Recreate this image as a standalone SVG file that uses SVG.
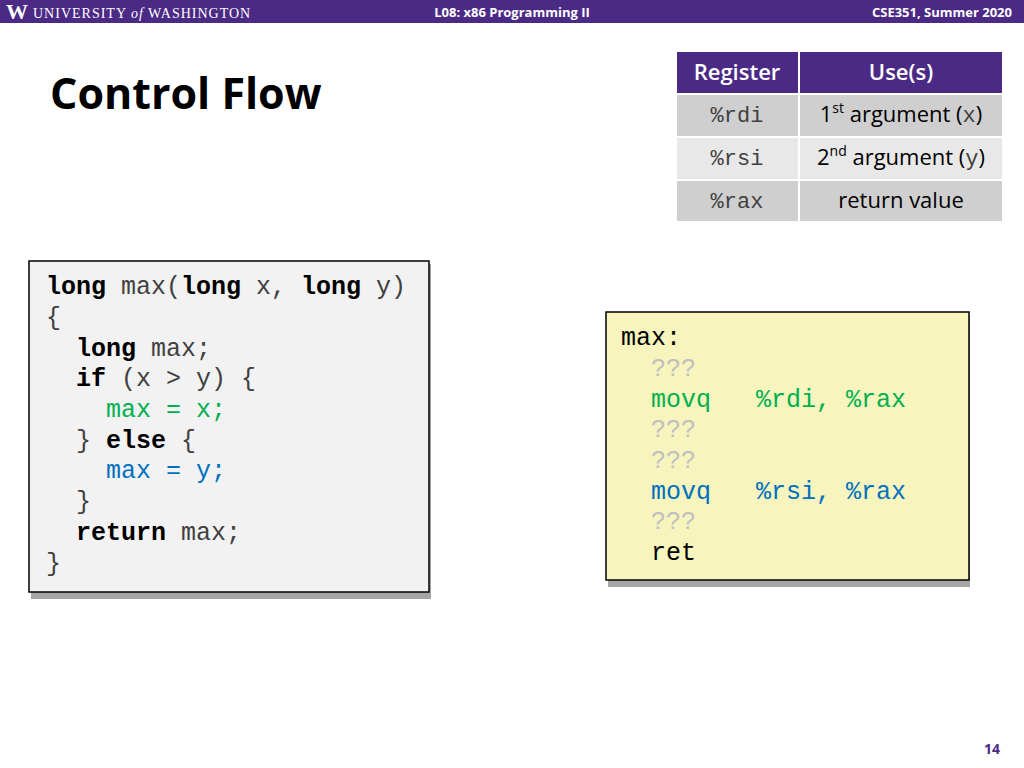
<svg xmlns="http://www.w3.org/2000/svg" width="1024" height="768" viewBox="0 0 1024 768">
<defs><style>
.m{font-family:"Liberation Mono",monospace;font-size:25px;fill:#404040}
.b{font-weight:bold;fill:#000}
.g{fill:#00b050}.bl{fill:#0070c0}.q{fill:#bfbfbf}.k{fill:#000}
.s{font-family:"Open Sans","Liberation Sans",sans-serif}
.cell{font-family:"Open Sans","Liberation Sans",sans-serif;font-size:22px;text-anchor:middle}
.rm{font-family:"Liberation Mono",monospace;font-size:22px;fill:#404040;text-anchor:middle}
</style></defs>
<rect width="1024" height="768" fill="#fff"/>
<g id="header">
<rect width="1024" height="23" fill="#4b2a85"/>
<text x="6" y="19" font-family="Liberation Serif,serif" font-size="22" font-weight="bold" fill="#fff">W</text>
<text x="33" y="18" font-family="Liberation Serif,serif" font-size="14" fill="#fff" letter-spacing="1">UNIVERSITY <tspan font-style="italic">of</tspan> WASHINGTON</text>
<text x="512" y="17" class="s" font-size="13" font-weight="bold" fill="#fff" text-anchor="middle">L08: x86 Programming II</text>
<text x="1012" y="17" class="s" font-size="13" font-weight="bold" fill="#fff" text-anchor="end">CSE351, Summer 2020</text>
</g>
<text x="50" y="109" class="s" font-size="43" font-weight="bold" fill="#000">Control Flow</text>
<g id="table">
<rect x="677" y="52" width="121" height="41" fill="#4b2a85"/>
<rect x="800" y="52" width="202" height="41" fill="#4b2a85"/>
<rect x="677" y="95" width="121" height="41" fill="#cfcfcf"/>
<rect x="800" y="95" width="202" height="41" fill="#cfcfcf"/>
<rect x="677" y="138" width="121" height="41" fill="#e8e8e8"/>
<rect x="800" y="138" width="202" height="41" fill="#e8e8e8"/>
<rect x="677" y="181" width="121" height="40" fill="#cfcfcf"/>
<rect x="800" y="181" width="202" height="40" fill="#cfcfcf"/>
<text x="737" y="80" class="cell" fill="#fff" font-weight="600">Register</text>
<text x="901" y="80" class="cell" fill="#fff" font-weight="600">Use(s)</text>
<text x="737" y="122" class="rm">%rdi</text>
<text x="737" y="165" class="rm">%rsi</text>
<text x="737" y="208" class="rm">%rax</text>
<text x="901" y="122" class="cell" fill="#000">1<tspan font-size="14" dy="-9">st</tspan><tspan dy="9"> argument (</tspan><tspan font-family="Liberation Mono,monospace" fill="#404040">x</tspan>)</text>
<text x="901" y="165" class="cell" fill="#000">2<tspan font-size="14" dy="-9">nd</tspan><tspan dy="9"> argument (</tspan><tspan font-family="Liberation Mono,monospace" fill="#404040">y</tspan>)</text>
<text x="901" y="208" class="cell" fill="#000">return value</text>
</g>
<g id="ccode">
<rect x="31" y="264" width="400" height="335" fill="#a6a6a6"/>
<rect x="29" y="261" width="400" height="331" fill="#f2f2f2" stroke="#000" stroke-width="1.5"/>
<text class="m" xml:space="preserve">
<tspan x="46" y="294"><tspan class="b">long</tspan> max(<tspan class="b">long</tspan> x, <tspan class="b">long</tspan> y)</tspan>
<tspan x="46" y="325">{</tspan>
<tspan x="46" y="356">  <tspan class="b">long</tspan> max;</tspan>
<tspan x="46" y="386">  <tspan class="b">if</tspan> (x &gt; y) {</tspan>
<tspan x="46" y="417" class="g">    max = x;</tspan>
<tspan x="46" y="448">  } <tspan class="b">else</tspan> {</tspan>
<tspan x="46" y="478" class="bl">    max = y;</tspan>
<tspan x="46" y="509">  }</tspan>
<tspan x="46" y="540">  <tspan class="b">return</tspan> max;</tspan>
<tspan x="46" y="571">}</tspan>
</text>
</g>
<g id="asm">
<rect x="608" y="315" width="362" height="272" fill="#a6a6a6"/>
<rect x="606" y="312" width="363" height="268" fill="#f7f4bd" stroke="#000" stroke-width="1.5"/>
<text class="m" xml:space="preserve">
<tspan x="621" y="345" class="k">max:</tspan>
<tspan x="621" y="376" class="q">  ???</tspan>
<tspan x="621" y="407" class="g">  movq   %rdi, %rax</tspan>
<tspan x="621" y="437" class="q">  ???</tspan>
<tspan x="621" y="468" class="q">  ???</tspan>
<tspan x="621" y="499" class="bl">  movq   %rsi, %rax</tspan>
<tspan x="621" y="529" class="q">  ???</tspan>
<tspan x="621" y="560" class="k">  ret</tspan>
</text>
</g>
<text x="1000" y="754" class="s" font-size="14" font-weight="bold" fill="#4b2a85" text-anchor="end">14</text>
</svg>
